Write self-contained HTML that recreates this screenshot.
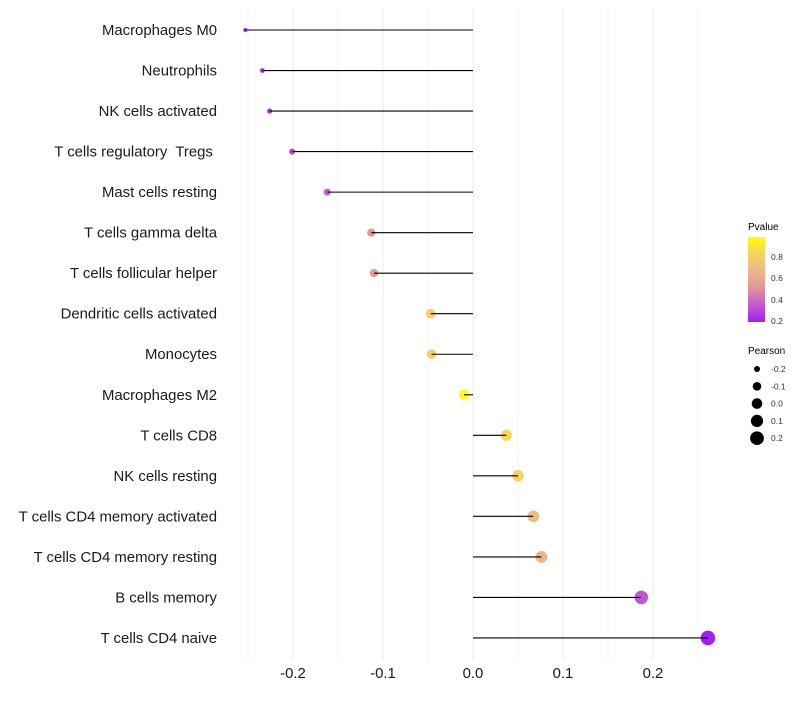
<!DOCTYPE html>
<html><head><meta charset="utf-8"><style>
body{margin:0;background:#fff;font-family:"Liberation Sans",sans-serif}
svg text{font-family:"Liberation Sans",sans-serif;white-space:pre}
</style></head><body>
<svg id="chart" width="800" height="700" xmlns="http://www.w3.org/2000/svg">
<defs><linearGradient id="pg" x1="0" y1="1" x2="0" y2="0">
<stop offset="0" stop-color="#a020f0"/><stop offset="0.2" stop-color="#c35ad2"/><stop offset="0.4" stop-color="#e19696"/><stop offset="0.65" stop-color="#f0be82"/><stop offset="0.83" stop-color="#f8d75a"/><stop offset="1" stop-color="#ffff00"/></linearGradient></defs>
<g id="grid"></g>
<g id="pts"></g>
<g id="marks"></g>
<g id="ylab"></g>
<g id="xlab"></g>
<g>
<text x="748" y="230" font-size="10" fill="#000">Pvalue</text>
<rect x="748" y="237" width="17" height="85" fill="url(#pg)"/>
<text x="771" y="260" font-size="8.5" fill="#333">0.8</text>
<text x="771" y="281" font-size="8.5" fill="#333">0.6</text>
<text x="771" y="303" font-size="8.5" fill="#333">0.4</text>
<text x="771" y="324" font-size="8.5" fill="#333">0.2</text>
</g>
<g id="sizeleg">
<text x="748" y="354" font-size="10" fill="#000">Pearson</text>
</g>
</svg>
<script>
const categories=["Macrophages M0","Neutrophils","NK cells activated","T cells regulatory  Tregs ","Mast cells resting","T cells gamma delta","T cells follicular helper","Dendritic cells activated","Monocytes","Macrophages M2","T cells CD8","NK cells resting","T cells CD4 memory activated","T cells CD4 memory resting","B cells memory","T cells CD4 naive"];
const pearson=[-0.253,-0.234,-0.226,-0.201,-0.162,-0.113,-0.110,-0.047,-0.046,-0.010,0.037,0.050,0.067,0.076,0.187,0.261];
const pvalues=[0.18,0.20,0.22,0.28,0.36,0.50,0.52,0.80,0.80,0.98,0.85,0.80,0.68,0.66,0.33,0.18];
const xTicks=[-0.2,-0.1,0.0,0.1,0.2];
const xTickLabels=["-0.2","-0.1","0.0","0.1","0.2"];
const sizeLegend=[-0.2,-0.1,0.0,0.1,0.2];
const sizeLegendLabels=["-0.2","-0.1","0.0","0.1","0.2"];
const NS="http://www.w3.org/2000/svg";
const x=v=>473+900*v;
const y=i=>30+i*40.53;
const r=v=>Math.sqrt(Math.max(1,28+95*v));
function col(p){const st=[[0.18,[160,32,240]],[0.34,[195,90,210]],[0.5,[225,150,150]],[0.7,[240,190,130]],[0.85,[248,215,90]],[0.98,[255,255,0]]];
p=Math.max(0.18,Math.min(0.98,p));for(let k=0;k<st.length-1;k++){const a=st[k],b=st[k+1];if(p<=b[0]){const t=(p-a[0])/(b[0]-a[0]);return "rgb("+a[1].map((c,j)=>Math.round(c+(b[1][j]-c)*t)).join(",")+")";}}return "rgb(255,255,0)";}
function mk(t,a,p){const e=document.createElementNS(NS,t);for(const k in a)e.setAttribute(k,a[k]);p.appendChild(e);return e;}
const grid=document.getElementById('grid'),marks=document.getElementById('marks'),pts=document.getElementById('pts'),ylab=document.getElementById('ylab'),xlab=document.getElementById('xlab'),sl=document.getElementById('sizeleg');
for(let g=-0.25;g<=0.2501;g+=0.05){const l=mk('line',{x1:x(g),x2:x(g),y1:8,y2:660,stroke:'#ebebeb','stroke-width':Math.abs(Math.round(g*20))%2?0.6:1},grid);

}
categories.forEach((c,i)=>{
const pt=mk('circle',{cx:x(pearson[i]),cy:y(i),r:r(pearson[i]),fill:col(pvalues[i])},pts);


const ln=mk('line',{x1:x(0),x2:x(pearson[i]),y1:y(i),y2:y(i),stroke:'#000','stroke-width':1.1},marks);


const t=mk('text',{x:217,y:y(i)+5,'text-anchor':'end','font-size':14.9,fill:'#1a1a1a'},ylab);t.textContent=c;

});
xTicks.forEach((v,i)=>{const t=mk('text',{x:x(v),y:678,'text-anchor':'middle','font-size':14.9,fill:'#1a1a1a'},xlab);t.textContent=xTickLabels[i];

});
sizeLegend.forEach((v,i)=>{const cy=369+i*17.3;const c=mk('circle',{cx:757,cy:cy,r:r(v),fill:'#000'},sl);


const t=mk('text',{x:771,y:cy+3,'font-size':8.5,fill:'#333'},sl);t.textContent=sizeLegendLabels[i];

});
</script>
</body></html>
